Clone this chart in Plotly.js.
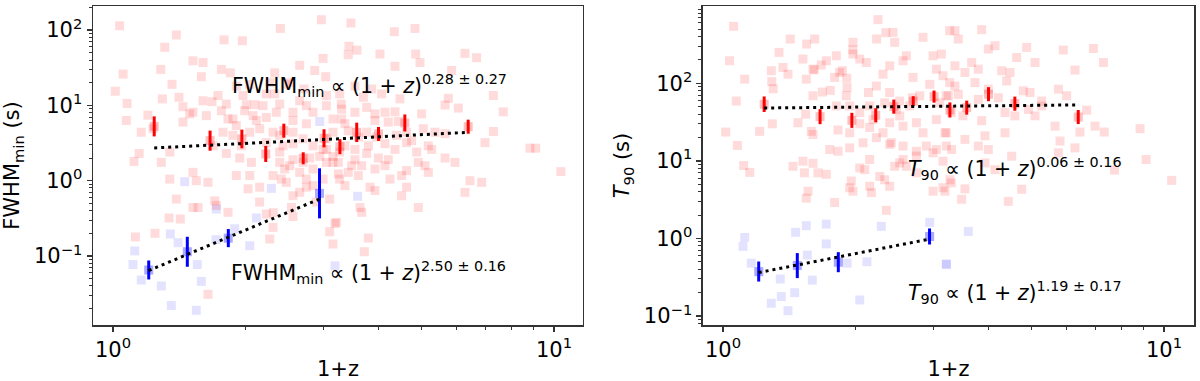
<!DOCTYPE html>
<html>
<head>
<meta charset="utf-8">
<script src="https://cdn.plot.ly/plotly-3.0.1.min.js"></script>
<style>
  body { margin: 0; background: #fff; }
  #grafico { width: 1200px; height: 381px; }
</style>
</head>
<body>
<div id="grafico"></div>
<script>
// --- datos: GRB largos (rojo) y cortos (azul), 1+z frente a FWHM_min y T90 ---

const fwhmLargoZ = [
  1.035, 1.392, 1.786, 1.965, 2.396, 2.969, 1.310, 1.518, 1.600, 1.283, 1.054, 1.761, 1.845, 1.586, 1.361,
  1.012, 1.076, 1.294, 1.411, 1.677, 2.006, 2.096, 1.807, 2.995, 2.867, 3.036, 2.711, 2.326, 2.267, 2.472,
  1.072, 1.200, 1.146, 1.116, 1.345, 1.441, 1.492, 1.761, 1.823, 1.904, 2.114, 2.227, 2.346, 2.560, 2.745,
  2.842, 3.047, 3.154, 3.294, 1.345, 1.545, 1.642, 2.024, 2.151, 2.409, 2.560, 2.745, 2.892, 3.100, 1.701,
  1.715, 1.518, 1.559, 1.823, 1.340, 1.421, 2.227, 2.306, 2.267, 3.154, 1.124, 1.245, 1.642, 3.209, 3.100,
  2.451, 2.651, 2.842, 2.995, 3.266, 3.047, 3.154, 2.793, 2.560, 2.388, 1.938, 2.060, 1.807, 1.686, 1.954,
  2.227, 2.430, 2.560, 2.697, 2.842, 1.871, 1.776, 2.042, 2.151, 2.306, 2.560, 2.078, 1.989, 2.189, 2.388,
  2.560, 2.651, 3.047, 3.266, 2.651, 2.516, 2.326, 2.227, 1.971, 1.904, 2.042, 1.730, 1.600, 1.518, 1.628,
  1.871, 1.441, 1.232, 1.159, 1.904, 2.042, 1.392, 1.518, 1.287, 2.388, 2.516, 2.697, 2.943, 3.047, 3.154,
  3.266, 2.842, 2.306, 2.472, 2.651, 2.745, 2.995, 2.388, 2.745, 3.154, 3.047, 2.310, 2.540, 2.560, 2.150,
  3.464, 4.345, 4.840, 3.428, 3.574, 4.031, 3.416, 4.857, 4.968, 6.283, 6.677, 4.360, 5.861, 3.537, 3.860,
  4.066, 4.475, 3.696, 7.288, 7.675, 5.762, 5.662, 6.069, 3.300, 3.537, 3.761, 3.927, 4.138, 4.360, 3.300,
  3.357, 3.927, 4.210, 4.436, 5.011, 5.055, 4.756, 4.633, 5.280, 5.662, 5.964, 6.976, 7.288, 6.855, 6.449,
  6.283, 8.825, 9.090, 10.37, 4.925, 4.633, 4.210, 3.996, 3.761, 3.476, 3.537, 3.243, 3.243, 3.357, 3.827,
  3.927, 4.248, 4.514, 4.633, 4.925, 3.632, 3.664, 3.187, 3.793, 3.715, 5.189, 5.099, 4.882, 4.360, 4.138,
  3.793, 3.537, 3.357, 4.398, 4.633, 3.761, 3.962, 3.600, 3.416, 5.662, 5.373, 5.189, 3.927, 3.664, 4.138,
  4.514, 3.600, 3.416
];
const fwhmLargoValor = [
  114, 86, 74, 72, 105, 137, 59, 39, 37, 30, 26, 30, 27, 24, 19,
  15.4, 10.6, 12.2, 12.8, 11.2, 10.2, 10.2, 10.4, 42, 29, 24, 16.5, 14.2, 20, 19,
  6.3, 7.4, 2.3, 1.8, 2.4, 9.6, 7.7, 8.5, 6.6, 5.4, 6.3, 6.9, 8.1, 6.3, 9.9,
  8.1, 9.9, 6.6, 10.4, 1.05, 1.0, 0.95, 0.78, 0.82, 1.05, 0.63, 0.82, 0.52, 0.57, 0.54,
  0.47, 0.44, 0.44, 0.38, 0.32, 0.31, 0.36, 0.24, 0.168, 0.144, 0.179, 0.20, 0.031, 0.28, 0.21,
  1.43, 1.29, 1.43, 1.05, 1.05, 1.75, 2.1, 2.0, 1.9, 2.4, 2.0, 1.75, 2.3, 2.9, 2.9,
  3.2, 2.9, 3.1, 3.6, 2.9, 4.0, 4.4, 4.4, 4.9, 4.4, 4.4, 7.3, 8.5, 9.9, 10.4,
  8.1, 11.5, 13.5, 14.2, 34, 20, 27, 14.2, 13.5, 18, 19, 13.5, 11.5, 8.1, 7.3,
  6.6, 6.0, 4.9, 4.4, 1.17, 1.17, 0.57, 1.29, 1.75, 1.75, 1.58, 1.75, 2.1, 2.6, 1.75,
  2.4, 0.86, 1.17, 0.95, 0.70, 1.05, 2.6, 4.0, 5.7, 4.4, 3.6, 0.376, 0.44, 0.335, 0.52,
  124, 95, 105, 61, 54, 48, 47, 48, 37, 49, 43, 33, 29, 18, 16.5,
  14.2, 12.2, 12.8, 13.5, 8.2, 12.4, 10.1, 9.2, 8.9, 8.1, 9.4, 7.7, 8.1, 8.2, 6.6,
  5.7, 6.3, 6.0, 6.1, 7.7, 4.9, 3.4, 3.2, 2.6, 2.0, 1.75, 3.2, 4.5, 0.95, 1.0,
  0.70, 2.7, 2.7, 1.32, 1.75, 1.36, 1.9, 2.0, 2.3, 1.58, 1.9, 1.75, 1.23, 0.86, 0.82,
  0.74, 1.05, 0.63, 0.82, 0.44, 0.44, 0.38, 0.27, 0.173, 0.114, 1.29, 1.58, 2.4, 2.6, 3.1,
  2.9, 2.6, 2.9, 4.0, 4.4, 4.4, 3.8, 3.8, 4.6, 4.2, 4.4, 2.9, 1.43, 1.58, 1.58,
  1.17, 1.17, 1.29
];

const fwhmCortoZ = [
  1.454, 2.943, 2.286, 1.715, 1.888, 2.114, 1.349, 1.120, 1.110, 1.159, 1.287, 1.586, 1.553, 2.042,
  1.356, 1.545, 1.205, 1.474, 1.823, 2.940, 3.587, 3.187, 1.405, 1.712
];
const fwhmCortoValor = [
  0.97, 6.1, 0.79, 0.42, 0.23, 0.32, 0.196, 0.117, 0.077, 0.048, 0.040, 0.046, 0.077, 0.137,
  0.022, 0.019, 0.065, 0.114, 0.17, 0.68, 0.62, 0.074, 0.15, 0.165
];

const t90LargoZ = [
  1.057, 1.421, 1.614, 1.971, 2.246, 2.230, 2.430, 2.451, 2.842, 3.266, 1.340, 1.287, 1.368, 1.404, 1.518,
  1.600, 1.715, 1.807, 1.839, 1.971, 2.042, 2.114, 2.306, 2.388, 2.560, 2.605, 2.697, 2.995, 3.127, 3.047,
  3.154, 1.120, 1.035, 1.072, 1.014, 1.078, 1.114, 1.150, 1.211, 1.294, 1.479, 1.540, 1.586, 1.600, 1.680,
  1.545, 1.751, 1.791, 1.865, 1.912, 1.904, 2.137, 2.227, 2.326, 2.388, 2.516, 2.690, 2.793, 2.943, 3.100,
  3.209, 3.266, 3.294, 1.600, 1.823, 1.746, 1.823, 1.938, 2.042, 2.151, 2.189, 2.306, 2.409, 2.560, 2.745,
  2.842, 3.047, 3.209, 2.388, 2.516, 2.651, 2.472, 2.151, 2.042, 1.938, 1.807, 1.441, 1.518, 1.600, 1.642,
  1.715, 1.530, 1.938, 1.954, 1.971, 2.151, 2.170, 2.042, 2.096, 2.267, 2.326, 2.451, 2.516, 2.560, 2.745,
  2.995, 3.047, 3.209, 3.154, 2.995, 3.154, 3.294, 2.388, 2.346, 2.745, 2.605, 2.151, 1.791, 1.545, 1.559,
  1.938, 2.078, 2.227, 2.388, 2.560, 2.745, 2.892, 1.548, 1.290, 1.300, 1.610, 1.670, 1.908, 1.970, 2.340,
  3.357, 3.860, 3.416, 3.996, 4.138, 4.882, 4.633, 5.099, 5.911, 6.917, 7.288, 6.283, 3.357, 3.537, 3.664,
  3.793, 4.285, 4.475, 4.398, 3.996, 3.728, 3.357, 3.243, 3.416, 3.793, 4.210, 4.797, 4.968, 5.280, 5.762,
  6.016, 6.677, 6.449, 6.976, 7.320, 8.825, 9.110, 10.41, 7.720, 6.283, 5.662, 5.810, 5.762, 4.756, 4.436,
  4.138, 3.927, 3.537, 3.476, 3.271, 3.187, 4.514, 3.996, 3.793, 3.537, 3.300, 3.187, 3.927, 4.360, 4.590,
  4.360, 3.860, 3.500, 5.099, 5.280, 4.925
];
const t90LargoValor = [
  542, 372, 372, 337, 661, 372, 453, 337, 391, 476, 250, 145, 160, 131, 205,
  152, 195, 226, 138, 238, 205, 185, 131, 168, 195, 226, 119, 226, 238, 152,
  125, 113, 195, 59, 23.5, 15.8, 8.7, 7.1, 24, 30, 31, 40, 24, 69, 77,
  113, 81, 119, 145, 88, 69, 76, 92, 56, 76, 59, 65, 69, 97, 56,
  69, 102, 42, 21.9, 25, 14.0, 13.3, 23, 30, 27, 34, 23, 17.1, 28, 31,
  23, 34, 23, 31, 38, 51, 46, 51, 42, 51, 51, 8.5, 9.9, 9.3, 7.0,
  6.7, 7.0, 4.5, 5.5, 4.06, 4.7, 3.9, 8.1, 7.7, 6.3, 5.7, 8.5, 9.4, 10.4, 11.5,
  12.7, 14.0, 15.5, 9.9, 4.06, 4.5, 5.2, 4.7, 2.3, 7.0, 8.5, 10.4, 2.9, 3.3, 4.06,
  14.7, 17.1, 19.9, 16.3, 15.5, 13.3, 15.5, 320, 105, 85, 149, 172, 116, 270, 449,
  476, 491, 372, 276, 305, 290, 215, 185, 268, 281, 185, 148, 168, 138, 185,
  152, 145, 138, 107, 84, 102, 92, 69, 72, 62, 65, 80, 76, 59, 84,
  69, 45, 23.5, 28, 23.5, 26, 10.4, 5.6, 7.6, 14.7, 28, 18, 12.7, 4.3, 3.0,
  7.7, 9.4, 4.35, 3.2, 5.7, 4.06, 11.5, 14.0, 15.5, 18.9, 14.0, 23, 21, 23, 38,
  42, 33, 38, 38, 51, 46
];

const t90CortoZ = [
  1.120, 1.110, 1.159, 1.349, 1.287, 1.356, 1.454, 1.404, 1.461, 1.553, 1.594, 1.545, 1.715,
  1.715, 1.912, 2.042, 2.120, 2.286, 2.943, 3.209, 1.207, 1.474, 1.826, 2.946, 3.600, 3.210
];
const t90CortoValor = [
  1.03, 0.79, 0.48, 0.30, 0.146, 0.178, 0.20, 0.117, 1.20, 0.61, 0.29, 1.46, 1.53,
  0.85, 0.48, 0.161, 0.50, 1.43, 1.61, 0.47, 0.37, 0.45, 0.49, 1.06, 1.23, 0.46
];

// --- medianas por intervalo de redshift (con barras de error asimétricas) ---
const binLargoZ = [1.24, 1.66, 1.96, 2.22, 2.44, 2.70, 3.01, 3.27, 3.57, 4.00, 4.59, 6.39];
const fwhmBinLargo = [5.26, 3.40, 3.58, 2.26, 4.61, 1.98, 3.65, 2.83, 4.38, 4.17, 5.84, 5.21];
const fwhmBinLargoMas = [1.88, 1.22, 1.18, 0.63, 1.10, 0.40, 1.16, 0.73, 1.51, 1.00, 1.73, 1.25];
const fwhmBinLargoMenos = [1.39, 0.90, 0.89, 0.49, 0.89, 0.33, 0.88, 0.58, 1.12, 0.80, 1.34, 1.01];
const t90BinLargo = [53.7, 37.1, 33.3, 38.7, 50.0, 58.7, 67.3, 45.3, 48.5, 72.3, 54.6, 36.7];
const t90BinLargoMas = [13.9, 9.3, 8.3, 9.0, 11.6, 9.5, 13.2, 11.3, 11.2, 16.8, 12.7, 8.5];
const t90BinLargoMenos = [11.0, 7.4, 6.7, 7.3, 9.4, 8.1, 11.0, 9.1, 9.1, 13.6, 10.3, 6.9];

const binCortoZ = [1.205, 1.474, 1.826, 2.94];
const fwhmBinCorto = [0.0652, 0.114, 0.173, 0.678];
const fwhmBinCortoMas = [0.022, 0.066, 0.055, 0.78];
const fwhmBinCortoMenos = [0.0164, 0.042, 0.042, 0.362];
const t90BinCorto = [0.374, 0.447, 0.494, 1.06];
const t90BinCortoMas = [0.13, 0.20, 0.171, 0.285];
const t90BinCortoMenos = [0.096, 0.139, 0.127, 0.225];

// --- ajustes de ley de potencia (extremos de cada recta) ---
const ajusteLargoZ = [1.24, 6.39];
const ajusteFwhmLargo = [2.72, 4.38];
const ajusteT90Largo = [48.0, 52.6];
const ajusteCortoZ = [1.205, 2.94];
const ajusteFwhmCorto = [0.064, 0.571];
const ajusteT90Corto = [0.363, 0.98];

// etiquetas de las décadas
const decadas = [0.1, 1, 10, 100];
const etiquetasDecadas = ['10<sup>−1</sup>', '10<sup>0</sup>', '10<sup>1</sup>', '10<sup>2</sup>'];

const textoAjustes = [
  'FWHM<sub>min</sub> ∝ (1 + <i>z</i>)<sup>0.28 ± 0.27</sup>',
  'FWHM<sub>min</sub> ∝ (1 + <i>z</i>)<sup>2.50 ± 0.16</sup>',
  '<i>T</i><sub>90</sub> ∝ (1 + <i>z</i>)<sup>0.06 ± 0.16</sup>',
  '<i>T</i><sub>90</sub> ∝ (1 + <i>z</i>)<sup>1.19 ± 0.17</sup>'
];

const ROJO_SUAVE = 'rgba(255,0,0,0.14)';
const AZUL_SUAVE = 'rgba(0,0,255,0.11)';

function ticksMenores(desde, hasta) {
  const v = [];
  for (let d = desde; d <= hasta; d++) {
    for (let k = 2; k <= 9; k++) v.push(k * Math.pow(10, d));
  }
  return v;
}

function nube(x, y, color, ejeX, ejeY) {
  return {
    x: x, y: y, xaxis: ejeX, yaxis: ejeY,
    type: 'scatter', mode: 'markers', hoverinfo: 'skip',
    marker: { symbol: 'square', size: 9, color: color, line: { width: 0 } }
  };
}

function medianas(x, y, mas, menos, color, fondo, ejeX, ejeY) {
  return {
    x: x, y: y, xaxis: ejeX, yaxis: ejeY,
    type: 'scatter', mode: 'markers', hoverinfo: 'skip',
    marker: { symbol: 'square', size: 9, color: fondo, line: { width: 0 } },
    error_y: { type: 'data', symmetric: false, array: mas, arrayminus: menos, color: color, thickness: 3, width: 0 }
  };
}

function recta(x, y, ejeX, ejeY) {
  return {
    x: x, y: y, xaxis: ejeX, yaxis: ejeY,
    type: 'scatter', mode: 'lines', hoverinfo: 'skip',
    line: { color: 'black', width: 3, dash: '3px,4px' }
  };
}

const trazas = [
  nube(fwhmLargoZ, fwhmLargoValor, ROJO_SUAVE, 'x', 'y'),
  nube(fwhmCortoZ, fwhmCortoValor, AZUL_SUAVE, 'x', 'y'),
  medianas(binLargoZ, fwhmBinLargo, fwhmBinLargoMas, fwhmBinLargoMenos, '#ff0000', 'rgba(255,0,0,0.25)', 'x', 'y'),
  medianas(binCortoZ, fwhmBinCorto, fwhmBinCortoMas, fwhmBinCortoMenos, '#0000ff', 'rgba(0,0,255,0.25)', 'x', 'y'),
  recta(ajusteLargoZ, ajusteFwhmLargo, 'x', 'y'),
  recta(ajusteCortoZ, ajusteFwhmCorto, 'x', 'y'),

  nube(t90LargoZ, t90LargoValor, ROJO_SUAVE, 'x2', 'y2'),
  nube(t90CortoZ, t90CortoValor, AZUL_SUAVE, 'x2', 'y2'),
  medianas(binLargoZ, t90BinLargo, t90BinLargoMas, t90BinLargoMenos, '#ff0000', 'rgba(255,0,0,0.25)', 'x2', 'y2'),
  medianas(binCortoZ, t90BinCorto, t90BinCortoMas, t90BinCortoMenos, '#0000ff', 'rgba(0,0,255,0.25)', 'x2', 'y2'),
  recta(ajusteLargoZ, ajusteT90Largo, 'x2', 'y2'),
  recta(ajusteCortoZ, ajusteT90Corto, 'x2', 'y2')
];

const fuente = { family: 'DejaVu Sans', size: 21, color: '#000' };
const fuenteNotas = { family: 'DejaVu Sans', size: 20.5, color: '#000' };

function ejeBase(extra) {
  return Object.assign({
    type: 'log',
    showgrid: false, zeroline: false,
    showline: true, mirror: true, linecolor: '#333', linewidth: 1.5,
    ticks: 'outside', ticklen: 5, tickwidth: 1.3, tickcolor: '#333',
    tickfont: fuente,
    tickmode: 'array', tickvals: decadas, ticktext: etiquetasDecadas,
    minor: { tickmode: 'array', tickvals: ticksMenores(-2, 2), ticks: 'outside', ticklen: 3, tickwidth: 1, tickcolor: '#333' }
  }, extra);
}

function nota(texto, x, y) {
  return { text: texto, xref: 'paper', yref: 'paper', x: x, y: y, xanchor: 'left', yanchor: 'middle', showarrow: false, font: fuenteNotas };
}

const diseño = {
  width: 1200, height: 381,
  margin: { l: 0, r: 0, t: 6, b: 56 },
  paper_bgcolor: '#fff', plot_bgcolor: '#fff',
  showlegend: false,
  font: fuente,
  xaxis: ejeBase({ domain: [0.0775, 0.4858], range: [-0.0454, 1.0658], anchor: 'y',
    title: { text: '1+z', font: fuente, standoff: 8 } }),
  yaxis: ejeBase({ domain: [0, 1], range: [-1.916, 2.319], anchor: 'x',
    title: { text: 'FWHM<sub>min</sub> (s)', font: fuente, standoff: 8 } }),
  xaxis2: ejeBase({ domain: [0.5858, 0.995], range: [-0.0454, 1.068], anchor: 'y2',
    title: { text: '1+z', font: fuente, standoff: 8 } }),
  yaxis2: ejeBase({ domain: [0, 1], range: [-1.116, 2.996], anchor: 'x2',
    title: { text: '<i>T</i><sub>90</sub> (s)', font: fuente, standoff: 8 } }),
  annotations: [
    nota(textoAjustes[0], 0.1917, 0.752),
    nota(textoAjustes[1], 0.1908, 0.166),
    nota(textoAjustes[2], 0.755, 0.49),
    nota(textoAjustes[3], 0.755, 0.102)
  ]
};

Plotly.newPlot('grafico', trazas, diseño, { staticPlot: true, displayModeBar: false });
</script>
</body>
</html>
